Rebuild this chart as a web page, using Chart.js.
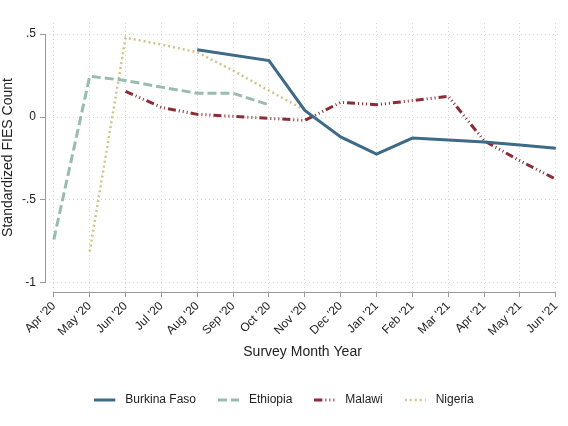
<!DOCTYPE html>
<html>
<head>
<meta charset="utf-8">
<script src="https://cdn.jsdelivr.net/npm/chart.js@4/dist/chart.umd.min.js"></script>
<style>
  html, body { margin: 0; padding: 0; background: #ffffff; }
  #wrap { width: 568px; height: 426px; }
</style>
</head>
<body>
<div id="wrap"><canvas id="c" width="568" height="426"></canvas></div>
<script>
const months = ["Apr '20","May '20","Jun '20","Jul '20","Aug '20","Sep '20","Oct '20","Nov '20","Dec '20","Jan '21","Feb '21","Mar '21","Apr '21","May '21","Jun '21"];
const burkinaFaso = [null, null, null, null, 0.405, null, 0.34, 0.04, -0.12, -0.224, -0.127, -0.139, -0.151, -0.168, -0.188];
const ethiopia    = [-0.737, 0.245, 0.22, 0.18, 0.143, 0.143, 0.073, null, null, null, null, null, null, null, null];
const malawi      = [null, null, 0.155, 0.058, 0.016, 0.004, -0.008, -0.02, 0.088, 0.074, 0.099, 0.125, -0.143, -0.264, -0.375];
const nigeria     = [null, -0.81, 0.478, 0.437, 0.39, 0.28, 0.159, 0.042, null, null, null, null, null, null, null];
const yTickValues = [-1, -0.5, 0, 0.5];
const yTickLabels = ["-1", "-.5", "0", ".5"];

const FONT = "'Liberation Sans', Arial, Helvetica, sans-serif";
const AXIS_COLOR = '#9a9a9a';
const GRID_COLOR = '#d4d4d4';

function pts(arr) { return arr.map((v, i) => ({x: i, y: v})); }

function legendIcon(ds) {
  const c = document.createElement('canvas');
  c.width = 25; c.height = 6;
  const g = c.getContext('2d');
  g.strokeStyle = ds.borderColor;
  g.lineWidth = ds.borderWidth;
  g.setLineDash(ds.borderDash || []);
  g.beginPath();
  g.moveTo(0, 3);
  g.lineTo(21, 3);
  g.stroke();
  return c;
}

const axisLines = {
  id: 'axisLines',
  afterDraw(chart) {
    const {ctx, scales: {x, y}} = chart;
    ctx.save();
    ctx.strokeStyle = AXIS_COLOR;
    ctx.lineWidth = 1;
    ctx.setLineDash([]);
    const xl = Math.round(x.left) + 0.5;
    ctx.beginPath();
    ctx.moveTo(xl, y.getPixelForValue(yTickValues[yTickValues.length - 1]));
    ctx.lineTo(xl, y.getPixelForValue(yTickValues[0]));
    ctx.stroke();
    const yb = Math.round(y.bottom) + 0.5;
    ctx.beginPath();
    ctx.moveTo(x.getPixelForValue(0), yb);
    ctx.lineTo(x.getPixelForValue(months.length - 1), yb);
    ctx.stroke();
    ctx.restore();
  }
};

new Chart(document.getElementById('c'), {
  type: 'line',
  data: {
    datasets: [
      { label: 'Burkina Faso', data: pts(burkinaFaso), borderColor: '#3d6a86', backgroundColor: '#3d6a86', borderWidth: 3, borderDash: [] },
      { label: 'Ethiopia', data: pts(ethiopia), borderColor: '#98bdb0', backgroundColor: '#98bdb0', borderWidth: 3, borderDash: [9, 4] },
      { label: 'Malawi', data: pts(malawi), borderColor: '#8b2d36', backgroundColor: '#8b2d36', borderWidth: 3, borderDash: [8, 3, 1, 3, 1, 3, 1, 3] },
      { label: 'Nigeria', data: pts(nigeria), borderColor: '#cdc687', backgroundColor: '#cdc687', borderWidth: 2.5, borderDash: [2, 3] }
    ]
  },
  options: {
    responsive: false,
    animation: false,
    spanGaps: true,
    elements: { point: { radius: 0, hoverRadius: 0 }, line: { tension: 0, fill: false } },
    layout: { padding: { left: 0, right: 0, top: 23, bottom: 10 } },
    plugins: {
      tooltip: { enabled: false },
      legend: {
        position: 'bottom',
        labels: {
          usePointStyle: true,
          pointStyleWidth: 25,
          padding: 22,
          color: '#222',
          font: { family: FONT, size: 12 },
          generateLabels(chart) {
            return chart.data.datasets.map((ds, i) => ({
              text: ds.label,
              pointStyle: legendIcon(ds),
              fillStyle: ds.borderColor,
              strokeStyle: ds.borderColor,
              lineWidth: 1,
              hidden: false,
              datasetIndex: i,
              fontColor: '#222'
            }));
          }
        }
      }
    },
    scales: {
      x: {
        type: 'linear',
        min: -0.247,
        max: 14.12,
        afterBuildTicks(s) { s.ticks = months.map((m, i) => ({value: i})); },
        afterFit(s) { s.height = 80; },
        ticks: {
          autoSkip: false,
          maxRotation: 45,
          minRotation: 45,
          padding: 2,
          color: '#222',
          font: { family: FONT, size: 12 },
          callback: (v) => months[v]
        },
        grid: { color: GRID_COLOR, lineWidth: 1, tickLength: 5, tickColor: AXIS_COLOR, tickBorderDash: [], tickWidth: 1 },
        border: { display: false, dash: [1, 3] },
        title: { display: true, text: 'Survey Month Year', color: '#222', font: { family: FONT, size: 14 }, padding: { top: 0, bottom: 11 } }
      },
      y: {
        type: 'linear',
        min: -1.0544,
        max: 0.5665,
        afterBuildTicks(s) { s.ticks = yTickValues.map(v => ({value: v})); },
        afterFit(s) { s.width = 45; },
        ticks: {
          padding: 4,
          color: '#222',
          font: { family: FONT, size: 12 },
          callback: (v) => { const i = yTickValues.indexOf(v); return i >= 0 ? yTickLabels[i] : ''; }
        },
        grid: { color: GRID_COLOR, lineWidth: 1, tickLength: 5, tickColor: AXIS_COLOR, tickBorderDash: [], tickWidth: 1 },
        border: { display: false, dash: [1, 3] },
        title: { display: true, text: 'Standardized FIES Count', color: '#222', font: { family: FONT, size: 14 }, padding: 0 }
      }
    }
  },
  plugins: [axisLines]
});
</script>
</body>
</html>
